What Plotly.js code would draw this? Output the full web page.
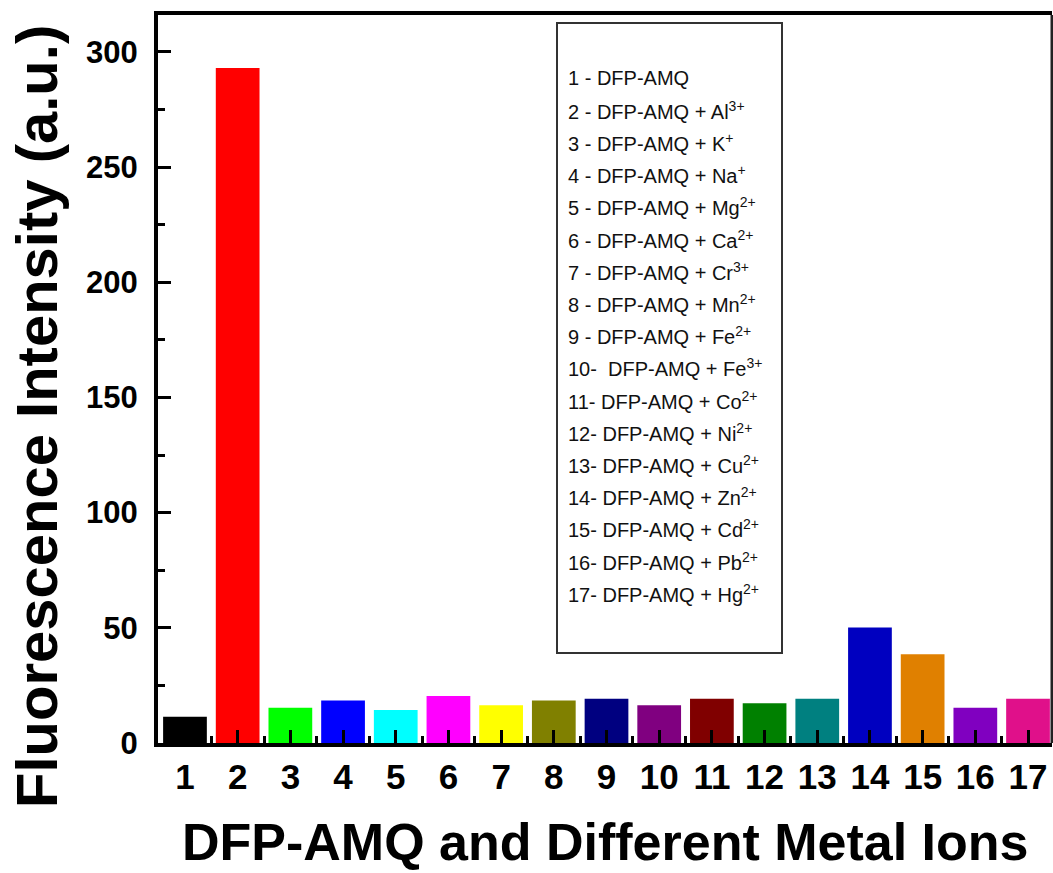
<!DOCTYPE html>
<html>
<head>
<meta charset="utf-8">
<script src="https://cdn.plot.ly/plotly-3.0.1.min.js"></script>
<style>
  html, body { margin: 0; padding: 0; background: #fff; }
  #chart { width: 1053px; height: 873px; }
</style>
</head>
<body>
<div id="chart"></div>
<script>
// ---- data ----
const samples = [1, 2, 3, 4, 5, 6, 7, 8, 9, 10, 11, 12, 13, 14, 15, 16, 17];
const tickLabels = ["1","2","3","4","5","6","7","8","9","10","11","12","13","14","15","16","17"];
const intensity = [11.4, 293, 15.3, 18.4, 14.3, 20.4, 16.4, 18.4, 19.2, 16.4, 19.2, 17.2, 19.2, 50.1, 38.5, 15.3, 19.2];
const barColors = ["#000000","#ff0000","#00ff00","#0000ff","#00ffff","#ff00ff","#ffff00","#808000",
                   "#000080","#800080","#800000","#008000","#008080","#0000c0","#e08000","#8000c0","#e0108a"];
const legendLabels = [
  "1 - DFP-AMQ",
  "2 - DFP-AMQ + Al<sup>3+</sup>",
  "3 - DFP-AMQ + K<sup>+</sup>",
  "4 - DFP-AMQ + Na<sup>+</sup>",
  "5 - DFP-AMQ + Mg<sup>2+</sup>",
  "6 - DFP-AMQ + Ca<sup>2+</sup>",
  "7 - DFP-AMQ + Cr<sup>3+</sup>",
  "8 - DFP-AMQ + Mn<sup>2+</sup>",
  "9 - DFP-AMQ + Fe<sup>2+</sup>",
  "10- &nbsp;DFP-AMQ + Fe<sup>3+</sup>",
  "11- DFP-AMQ + Co<sup>2+</sup>",
  "12- DFP-AMQ + Ni<sup>2+</sup>",
  "13- DFP-AMQ + Cu<sup>2+</sup>",
  "14- DFP-AMQ + Zn<sup>2+</sup>",
  "15- DFP-AMQ + Cd<sup>2+</sup>",
  "16- DFP-AMQ + Pb<sup>2+</sup>",
  "17- DFP-AMQ + Hg<sup>2+</sup>"
];
const xTitle = "DFP-AMQ and Different Metal Ions";
const yTitle = "Fluorescence Intensity (a.u.)";

// ---- layout geometry (pixels) ----
const W = 1053, H = 873;
const mL = 158, mR = 1, mT = 15, mB = 130;
const plotW = W - mL - mR, plotH = H - mT - mB;
const px2paperX = p => (p - mL) / plotW;
const px2paperY = p => (H - mB - p) / plotH;

const FONT = "Arial, 'Liberation Sans', Helvetica, sans-serif";

const trace = {
  type: "bar",
  x: samples,
  y: intensity,
  width: 0.83,
  marker: { color: barColors, line: { width: 0 } },
  hoverinfo: "x+y"
};

const annotations = [];
// legend lines
const legTop = 78, legStep = 32.2;
legendLabels.forEach((t, i) => {
  annotations.push({
    xref: "paper", yref: "paper",
    x: px2paperX(566), y: px2paperY(legTop + i * legStep),
    xanchor: "left", yanchor: "middle",
    text: t, showarrow: false,
    font: { family: FONT, size: 20, color: "#111" }
  });
});
// axis titles
annotations.push({
  xref: "paper", yref: "paper",
  x: 0.5, y: px2paperY(842),
  xanchor: "center", yanchor: "middle",
  text: "<b>" + xTitle + "</b>", showarrow: false,
  font: { family: FONT, size: 52, color: "#000" }
});
annotations.push({
  xref: "paper", yref: "paper",
  x: px2paperX(36), y: px2paperY(417),
  xanchor: "center", yanchor: "middle",
  textangle: -90,
  text: "<b>" + yTitle + "</b>", showarrow: false,
  font: { family: FONT, size: 58, color: "#000" }
});

const layout = {
  width: W, height: H,
  margin: { l: mL, r: mR, t: mT, b: mB, pad: 0 },
  paper_bgcolor: "#ffffff",
  plot_bgcolor: "#ffffff",
  showlegend: false,
  bargap: 0.17,
  xaxis: {
    range: [0.488, 17.455],
    tickmode: "array",
    tickvals: samples,
    ticktext: tickLabels,
    ticks: "inside",
    ticklen: 13,
    tickwidth: 3,
    tickcolor: "#000",
    minor: { tickmode: "linear", tick0: 0.5, dtick: 1, ticks: "inside", ticklen: 7, tickwidth: 3, tickcolor: "#000" },
    showline: true, linewidth: 4, linecolor: "#000", mirror: true,
    showgrid: false, zeroline: false,
    tickfont: { family: FONT, size: 35, color: "#000", weight: "bold" },
    ticklabelstandoff: 0,
    fixedrange: true
  },
  yaxis: {
    range: [0, 316],
    tickmode: "linear", tick0: 0, dtick: 50,
    ticks: "inside",
    ticklen: 13,
    tickwidth: 3,
    tickcolor: "#000",
    minor: { tickmode: "linear", tick0: 25, dtick: 50, ticks: "inside", ticklen: 7, tickwidth: 3, tickcolor: "#000" },
    showline: true, linewidth: 4, linecolor: "#000", mirror: false,
    showgrid: false, zeroline: false,
    tickfont: { family: FONT, size: 31, color: "#000", weight: "bold" },
    ticklabelstandoff: 10,
    fixedrange: true
  },
  shapes: [
    // right frame line (thin)
    { type: "line", xref: "paper", yref: "paper", x0: 1, x1: 1, y0: 0, y1: 1,
      line: { color: "#222", width: 3 } },
    // legend box
    { type: "rect", xref: "paper", yref: "paper",
      x0: px2paperX(557), x1: px2paperX(782), y0: px2paperY(653), y1: px2paperY(23),
      line: { color: "#333", width: 2 }, fillcolor: "rgba(255,255,255,0)" }
  ],
  annotations: annotations
};

Plotly.newPlot("chart", [trace], layout, { displayModeBar: false, staticPlot: true });
</script>
</body>
</html>
